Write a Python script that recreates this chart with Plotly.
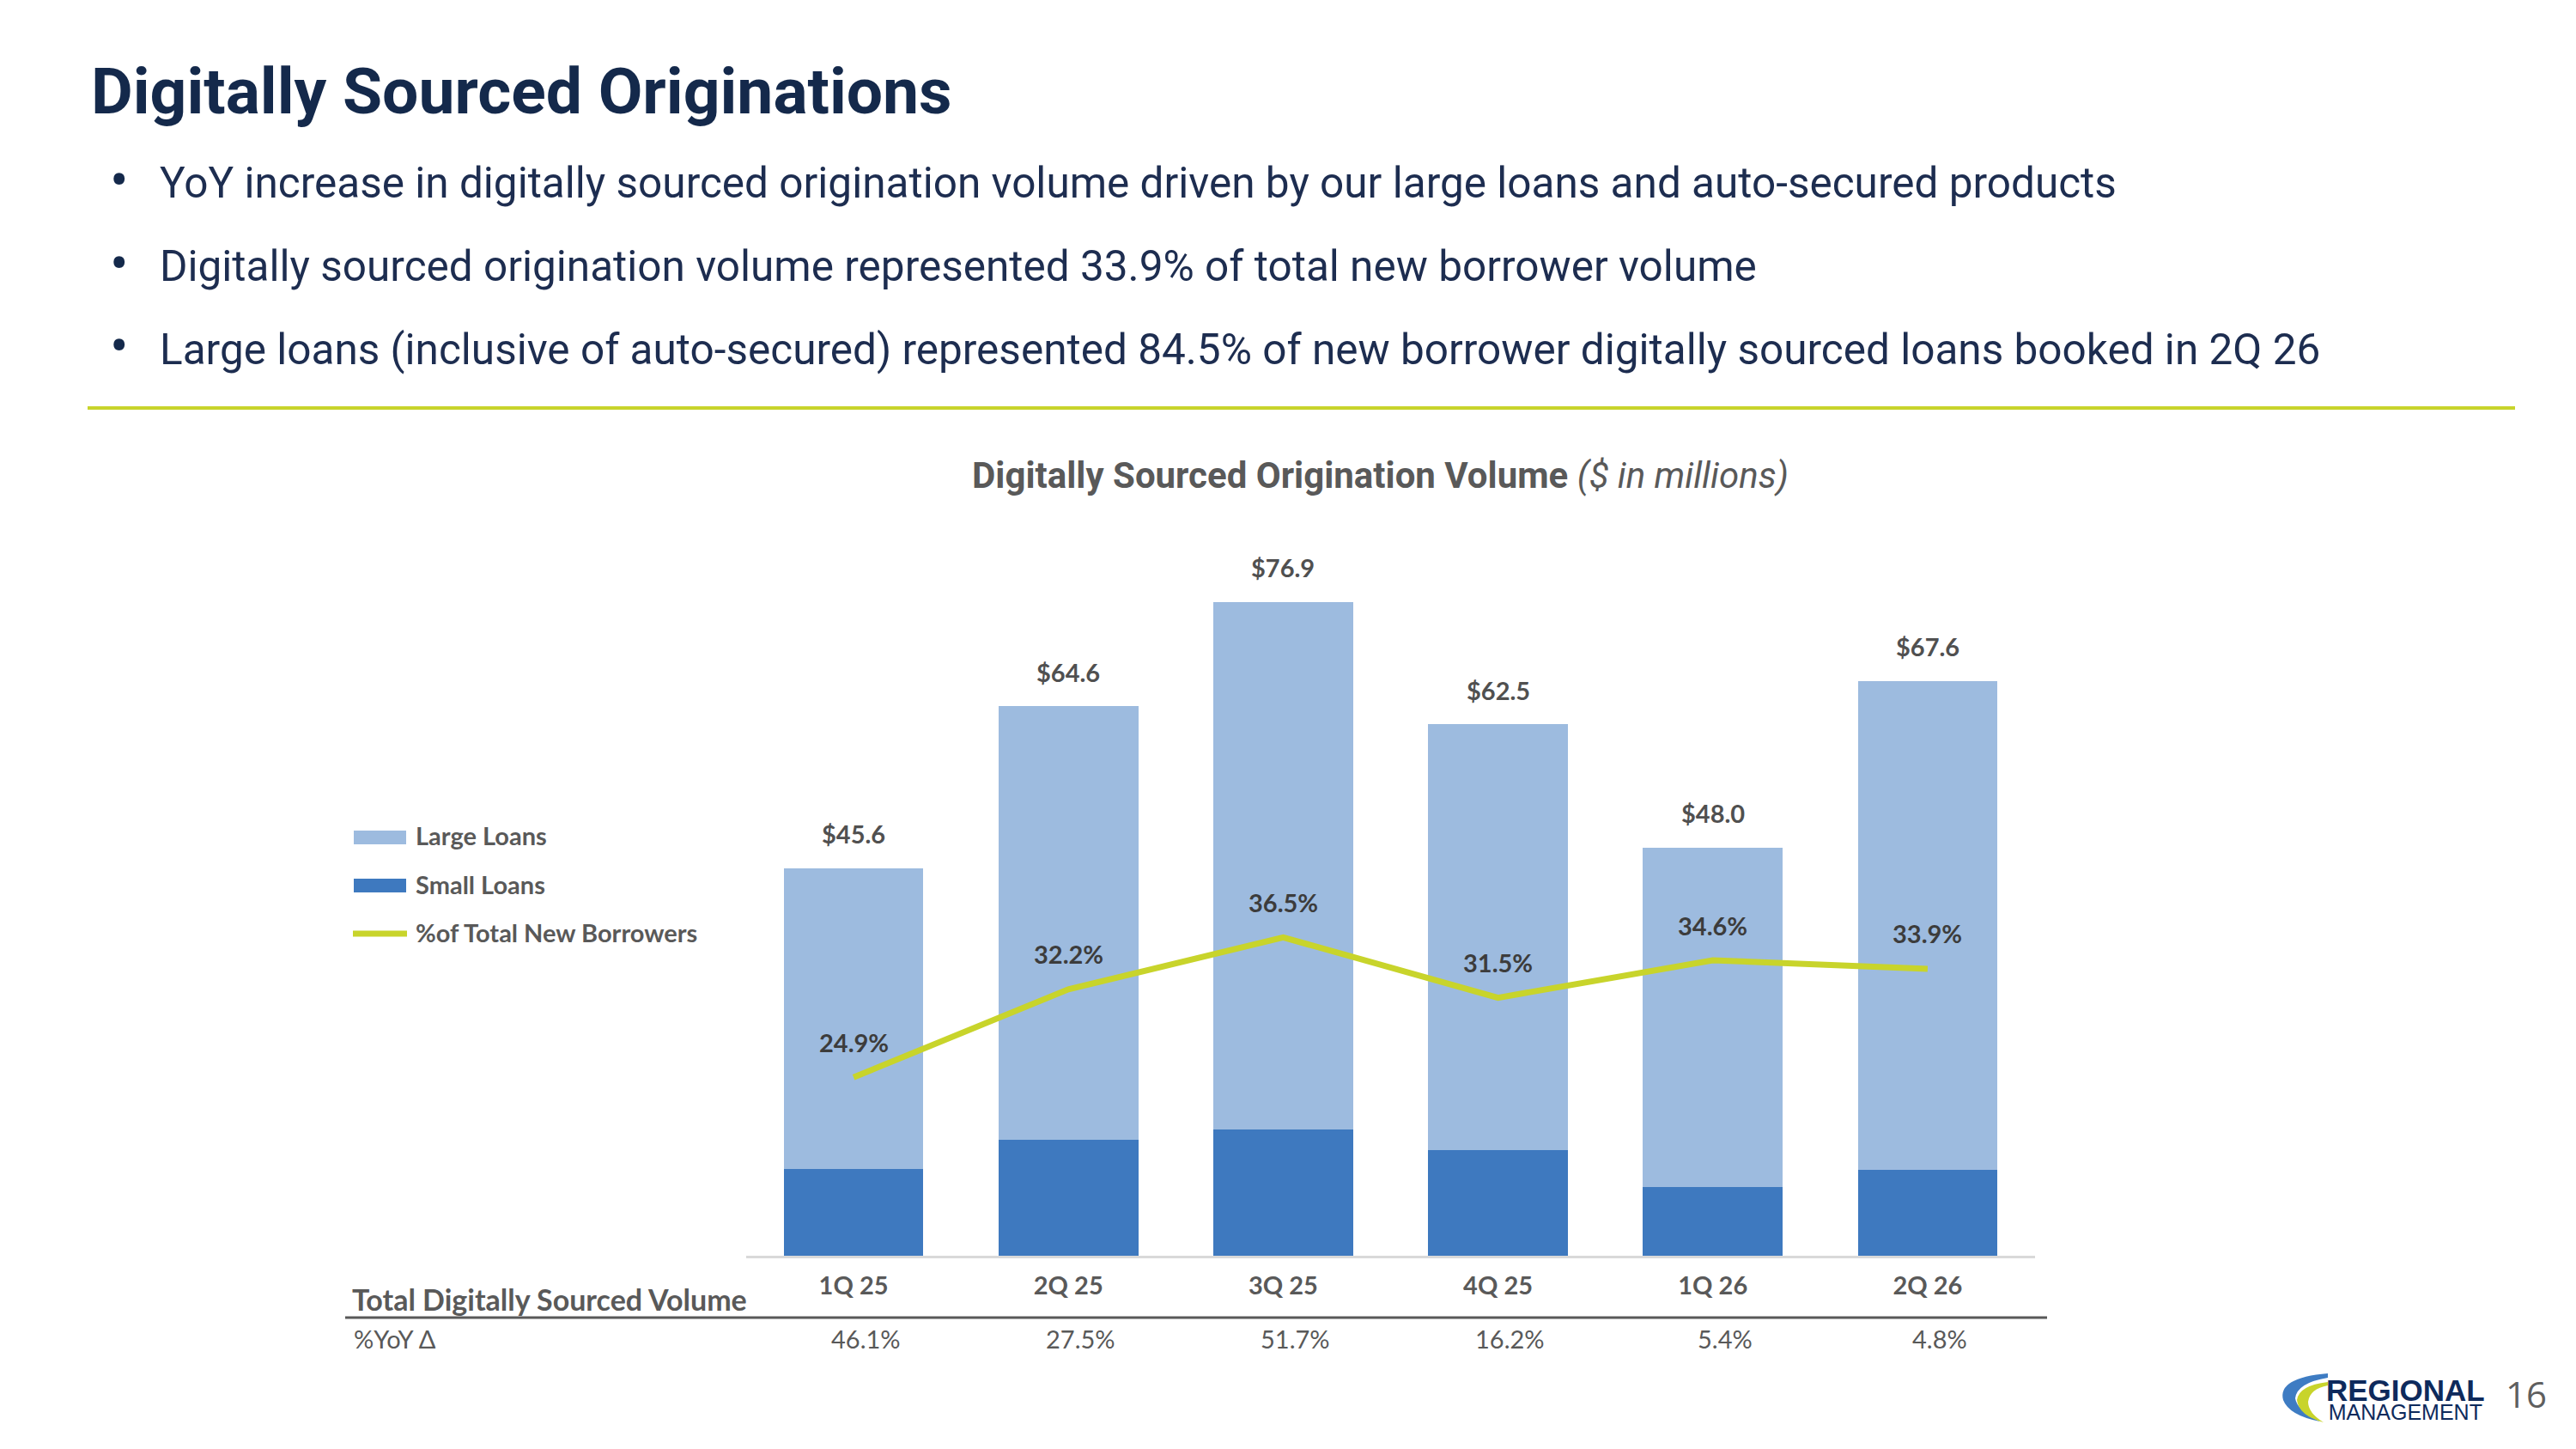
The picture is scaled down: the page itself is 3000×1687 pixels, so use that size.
import plotly.graph_objects as go

# data ($ in millions)
quarters = ["1Q 25", "2Q 25", "3Q 25", "4Q 25", "1Q 26", "2Q 26"]
small_loans = [10.2, 13.6, 14.8, 12.4, 8.1, 10.1]
large_loans = [35.4, 51.0, 62.1, 50.1, 39.9, 57.5]
totals = [45.6, 64.6, 76.9, 62.5, 48.0, 67.6]
pct_new_borrowers = [24.9, 32.2, 36.5, 31.5, 34.6, 33.9]
yoy_change = [46.1, 27.5, 51.7, 16.2, 5.4, 4.8]

bullets = [
    "YoY increase in digitally sourced origination volume driven by our large loans and auto-secured products",
    "Digitally sourced origination volume represented 33.9% of total new borrower volume",
    "Large loans (inclusive of auto-secured) represented 84.5% of new borrower digitally sourced loans booked in 2Q 26",
]

# page body has an 8px margin, so the figure is a bit smaller than the window
OFF = 8
W, H = 3000 - OFF, 1687 - OFF
NAVY = "#14294B"
GRAY = "#595959"
LIGHT_BLUE = "#9DBBDF"
BLUE = "#3E79BF"
LIME = "#C8D42B"


def fx(x):
    return (x - OFF) / W


def fy(y):
    return 1 - (y - OFF) / H


def path(points):
    out = []
    for cmd, pts in points:
        coords = " ".join("%.5f,%.5f" % (fx(a), fy(b)) for a, b in pts)
        out.append(cmd + " " + coords)
    return " ".join(out) + " Z"


def note(x, y, text, size, color=GRAY, family="Lato", weight="normal", anchor="left"):
    return dict(x=fx(x), y=fy(y), xref="paper", yref="paper", text=text,
                showarrow=False, xanchor=anchor, yanchor="middle",
                font=dict(family=family, size=size, color=color, weight=weight))


fig = go.Figure()

fig.add_trace(go.Bar(x=quarters, y=small_loans, name="Small Loans",
                     marker=dict(color=BLUE, line=dict(width=0))))
fig.add_trace(go.Bar(x=quarters, y=large_loans, name="Large Loans",
                     marker=dict(color=LIGHT_BLUE, line=dict(width=0))))
fig.add_trace(go.Scatter(x=quarters, y=pct_new_borrowers, yaxis="y2",
                         mode="lines", name="%of Total New Borrowers",
                         line=dict(color=LIME, width=7)))

annotations = []
shapes = []

# bar totals
for q, t in zip(quarters, totals):
    annotations.append(dict(x=q, y=t, xref="x", yref="y", text="$%.1f" % t,
                            showarrow=False, yshift=40, yanchor="middle",
                            font=dict(family="Lato", size=29, color="#505050", weight="bold")))

# line labels
for q, p in zip(quarters, pct_new_borrowers):
    annotations.append(dict(x=q, y=p, xref="x", yref="y2", text="%.1f%%" % p,
                            showarrow=False, yshift=41, yanchor="middle",
                            font=dict(family="Lato", size=29, color="#3C3C3C", weight="bold")))

# yoy row
for q, v in zip(quarters, yoy_change):
    annotations.append(dict(x=q, y=fy(1558), xref="x", yref="paper", text="%.1f%%" % v,
                            showarrow=False, xshift=14, yanchor="middle",
                            font=dict(family="Lato", size=29, color=GRAY)))

annotations.append(note(408, 1512, "Total Digitally Sourced Volume", 34, weight="bold"))
annotations.append(note(410, 1558, "%YoY Δ", 29))
shapes.append(dict(type="line", xref="paper", yref="paper",
                   x0=fx(402), x1=fx(2384), y0=fy(1534), y1=fy(1534),
                   line=dict(color=GRAY, width=3)))

# legend (drawn by hand to get the wide swatches)
legend_items = [("Large Loans", LIGHT_BLUE, "bar", 975),
                ("Small Loans", BLUE, "bar", 1031),
                ("%of Total New Borrowers", LIME, "line", 1087)]
for label, col, kind, yy in legend_items:
    if kind == "bar":
        shapes.append(dict(type="rect", xref="paper", yref="paper",
                           x0=fx(412), x1=fx(473), y0=fy(yy + 8), y1=fy(yy - 8),
                           fillcolor=col, line=dict(width=0)))
    else:
        shapes.append(dict(type="line", xref="paper", yref="paper",
                           x0=fx(411), x1=fx(474), y0=fy(yy), y1=fy(yy),
                           line=dict(color=col, width=7)))
    annotations.append(note(482, yy - 2, label, 29, weight="bold"))

# slide title, bullets, rule
annotations.append(note(104, 106, "Digitally Sourced Originations", 75, color=NAVY,
                        family="Roboto", weight="bold"))
for i, b in enumerate(bullets):
    yy = 213 + i * 97
    annotations.append(note(138.5, yy - 3, "•", 64, color=NAVY, family="Roboto", anchor="center"))
    annotations.append(note(184, yy, b, 49.5, color="#1D2D50", family="Roboto"))
shapes.append(dict(type="line", xref="paper", yref="paper",
                   x0=fx(102), x1=fx(2929), y0=fy(475), y1=fy(475),
                   line=dict(color=LIME, width=4)))

# chart title
annotations.append(note(1607, 553, "<b>Digitally Sourced Origination Volume</b> <i>($ in millions)</i>",
                        42, family="Roboto", anchor="center"))

# logo + page number
shapes.append(dict(type="path", xref="paper", yref="paper", line=dict(width=0), fillcolor="#3E7CC3",
                   path=path([("M", [(2711, 1599)]), ("Q", [(2652, 1604), (2659, 1630)]),
                              ("Q", [(2666, 1648), (2702, 1655)]), ("Q", [(2675, 1642), (2673, 1628)]),
                              ("Q", [(2675, 1610), (2711, 1604)])])))
shapes.append(dict(type="path", xref="paper", yref="paper", line=dict(width=0), fillcolor=LIME,
                   path=path([("M", [(2711, 1609)]), ("Q", [(2677, 1613), (2675, 1630)]),
                              ("Q", [(2677, 1648), (2706, 1656)]), ("Q", [(2688, 1645), (2688, 1632)]),
                              ("Q", [(2690, 1617), (2711, 1613)])])))
# one two-line annotation, small base size gives the tight line spacing of the logo
annotations.append(note(2707, 1628,
                        "<span style='font-size:35px'><b>REGIONAL</b></span><br>"
                        "<span style='font-size:25px'>MANAGEMENT</span>",
                        17, color="#0E2A5C", family="Liberation Sans"))
annotations.append(note(2942, 1622, "16", 42, color="#5F5F5F", family="Open Sans", anchor="center"))

y_top = 90
fig.update_layout(
    width=W, height=H,
    margin=dict(l=0, r=0, t=0, b=0),
    paper_bgcolor="white", plot_bgcolor="white",
    barmode="stack", bargap=0.35,
    showlegend=False,
    xaxis=dict(domain=[fx(869), fx(2370)], type="category", range=[-0.5, 5.5],
               showline=True, linecolor="#D9D9D9", linewidth=3, ticks="",
               showgrid=False, zeroline=False, ticklabelstandoff=7,
               tickfont=dict(family="Lato", size=29, color=GRAY, weight="bold")),
    yaxis=dict(domain=[fy(1462), fy(571)], range=[0, y_top], visible=False),
    yaxis2=dict(domain=[fy(1462), fy(571)], overlaying="y",
                range=[10.1, 10.1 + y_top / 1.418], visible=False),
    annotations=annotations,
    shapes=shapes,
)

fig.write_html("out.html")
